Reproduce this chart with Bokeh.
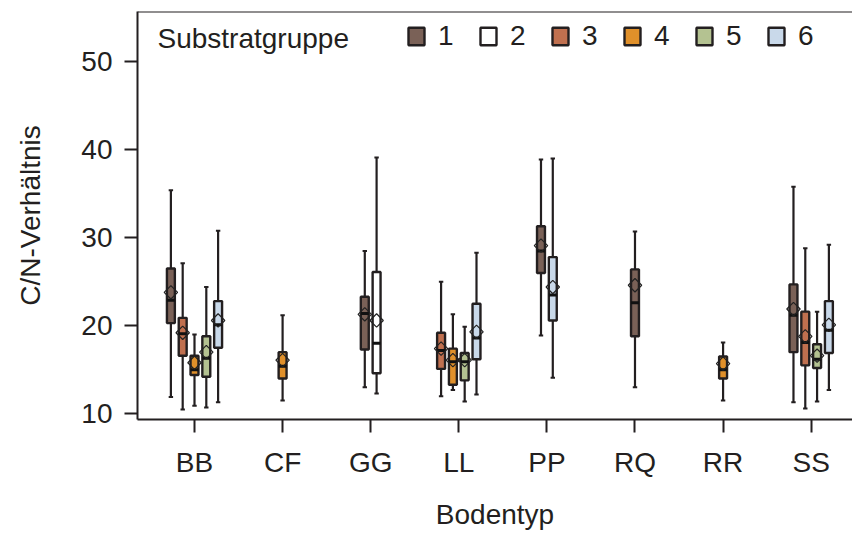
import numpy as np
from bokeh.plotting import figure
from bokeh.models import Range1d, FixedTicker, Legend, LegendItem, Label, Span, ColumnDataSource
from bokeh.embed import file_html
from bokeh.resources import INLINE

# ---------------- data ----------------
categories = ["BB", "CF", "GG", "LL", "PP", "RQ", "RR", "SS"]
groups = ["1", "2", "3", "4", "5", "6"]
group_colors = ["#7a6157", "#ffffff", "#c0704f", "#e0902a", "#b4c291", "#c9d9ea"]

box_cat = ["BB", "BB", "BB", "BB", "BB", "CF", "GG", "GG", "LL", "LL", "LL", "LL",
           "PP", "PP", "RQ", "RR", "SS", "SS", "SS", "SS"]
box_grp = ["1", "3", "4", "5", "6", "4", "1", "2", "3", "4", "5", "6",
           "1", "6", "1", "4", "1", "3", "5", "6"]
whisk_lo = [11.9, 10.5, 10.9, 10.7, 11.3, 11.5, 13.0, 12.3, 12.0, 12.7, 11.4, 12.2,
            18.9, 14.1, 13.0, 11.5, 11.3, 10.6, 11.4, 12.7]
q1 = [20.3, 16.6, 14.4, 14.2, 17.5, 14.0, 17.3, 14.6, 15.1, 13.3, 13.8, 16.2,
      26.0, 20.6, 18.8, 14.0, 17.0, 15.5, 15.2, 16.9]
median = [22.9, 19.1, 15.0, 16.3, 20.1, 15.4, 21.4, 18.0, 17.2, 15.9, 15.9, 18.6,
          28.5, 23.5, 22.6, 15.0, 21.2, 18.1, 16.2, 19.5]
q3 = [26.5, 20.9, 16.6, 18.8, 22.8, 17.0, 23.3, 26.1, 19.2, 17.4, 16.9, 22.5,
      31.3, 27.8, 26.4, 16.5, 24.7, 21.6, 17.9, 22.8]
whisk_hi = [35.4, 27.1, 19.0, 24.4, 30.8, 21.2, 28.5, 39.1, 25.0, 21.3, 19.9, 28.3,
            38.9, 39.0, 30.7, 18.1, 35.8, 28.8, 21.6, 29.2]
mean = [23.8, 19.2, 15.8, 17.0, 20.6, 16.1, 21.3, 20.6, 17.4, 16.1, 16.1, 19.3,
        29.1, 24.4, 24.6, 15.7, 21.9, 18.8, 16.6, 20.1]

y_ticks = [10, 20, 30, 40, 50]

# ---------------- layout constants ----------------
FONT = "Liberation Sans"
FS = "28px"
INK = "#231f20"
DODGE = 0.134
BOX_W = 0.09
CAP_W = 0.05

# dodge positions among groups present in each category
x_pos = []
for c, g in zip(box_cat, box_grp):
    present = [gg for cc, gg in zip(box_cat, box_grp) if cc == c]
    n = len(present)
    j = present.index(g)
    x_pos.append(categories.index(c) + (j - (n - 1) / 2) * DODGE)
x_pos = np.array(x_pos)

p = figure(width=852, height=532, output_backend="svg", toolbar_location=None,
           x_range=Range1d(-0.647, 7.469), y_range=Range1d(9.35, 55.70),
           min_border_left=137, min_border_right=0, min_border_top=11, min_border_bottom=112)
p.background_fill_color = "white"
p.border_fill_color = "white"
p.outline_line_color = None
p.xgrid.visible = False
p.ygrid.visible = False

src_all = ColumnDataSource(dict(x=x_pos, lo=whisk_lo, q1=q1, med=median, q3=q3, hi=whisk_hi,
                                mean=mean, xl=x_pos - BOX_W / 2, xr=x_pos + BOX_W / 2,
                                cl=x_pos - CAP_W / 2, cr=x_pos + CAP_W / 2))

# whiskers
p.segment(x0="x", y0="lo", x1="x", y1="q1", source=src_all, line_color=INK, line_width=2.2)
p.segment(x0="x", y0="q3", x1="x", y1="hi", source=src_all, line_color=INK, line_width=2.2)
p.segment(x0="cl", y0="lo", x1="cr", y1="lo", source=src_all, line_color=INK, line_width=2)
p.segment(x0="cl", y0="hi", x1="cr", y1="hi", source=src_all, line_color=INK, line_width=2)

# boxes per group
legend_items = []
for g, col in zip(groups, group_colors):
    idx = [i for i, gg in enumerate(box_grp) if gg == g]
    src = ColumnDataSource(dict(x=x_pos[idx], top=[q3[i] for i in idx], bottom=[q1[i] for i in idx]))
    r = p.vbar(x="x", top="top", bottom="bottom", width=BOX_W, source=src,
               fill_color=col, line_color=INK, line_width=2.4)
    legend_items.append(LegendItem(label=g, renderers=[r]))

# medians
p.segment(x0="xl", y0="med", x1="xr", y1="med", source=src_all, line_color="#111111", line_width=3)
# means
p.scatter(x="x", y="mean", source=src_all, marker="square", angle=np.pi / 4, size=9.5,
          fill_alpha=0, line_color="#222222", line_width=1.2)

# top border line
p.add_layout(Span(location=55.70, dimension="width", line_color=INK, line_width=2))

# axes
p.xaxis.ticker = FixedTicker(ticks=list(range(len(categories))))
p.xaxis.major_label_overrides = {i: c for i, c in enumerate(categories)}
p.yaxis.ticker = FixedTicker(ticks=y_ticks)
for ax in (p.xaxis, p.yaxis):
    ax.axis_line_color = INK
    ax.axis_line_width = 2
    ax.major_tick_line_color = INK
    ax.major_tick_line_width = 2
    ax.major_tick_out = 13
    ax.major_tick_in = 0
    ax.minor_tick_line_color = None
    ax.major_label_text_font = FONT
    ax.major_label_text_font_size = FS
    ax.major_label_text_color = INK
    ax.axis_label_text_font = FONT
    ax.axis_label_text_font_size = FS
    ax.axis_label_text_font_style = "normal"
    ax.axis_label_text_color = INK
p.xaxis.major_label_standoff = 14
p.yaxis.major_label_standoff = 12
p.yaxis.axis_label = "C/N-Verhältnis"
p.yaxis.axis_label_standoff = 32
p.xaxis.axis_label = "Bodentyp"
p.xaxis.axis_label_standoff = 18

# legend
legend = Legend(items=legend_items, orientation="horizontal", location=(269, 367),
                glyph_width=20, glyph_height=22, label_standoff=12, spacing=20,
                padding=0, margin=0, background_fill_alpha=0, border_line_color=None,
                label_text_font=FONT, label_text_font_size=FS, label_text_color=INK)
p.add_layout(legend)
p.add_layout(Label(x=-0.42, y=52.64, text="Substratgruppe", text_align="left", text_baseline="middle",
                   text_font=FONT, text_font_size=FS, text_color=INK))

open("out.html", "w").write(file_html(p, INLINE))
